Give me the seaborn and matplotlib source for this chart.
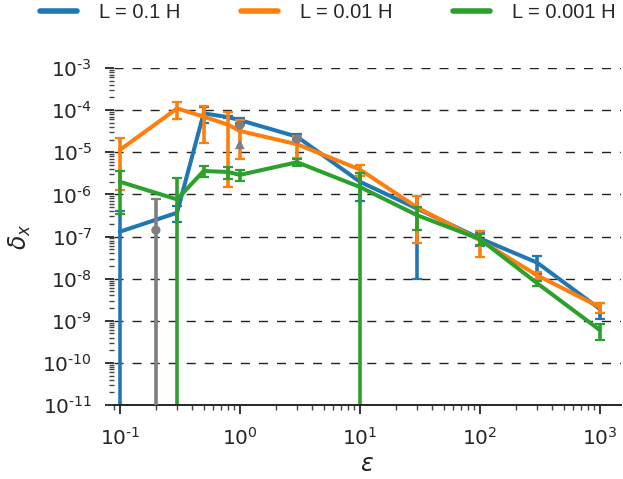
import numpy as np
import pandas as pd
import matplotlib
matplotlib.use("Agg")
import matplotlib.pyplot as plt
from matplotlib.ticker import LogLocator, FuncFormatter, NullFormatter
from matplotlib.lines import Line2D
import seaborn as sns

# ---- data -------------------------------------------------------------
eps = [0.1, 0.3, 0.5, 0.8, 1.0, 3.0, 10.0, 30.0, 100.0, 300.0, 1000.0]
series_labels = ["L = 0.1 H", "L = 0.01 H", "L = 0.001 H"]

delta_L1 = [1.3e-7, 3.66e-7, 8.4e-5, 6.8e-5, 5.8e-5, 2.34e-5, 2.0e-6, 4.6e-7, 9.0e-8, 2.4e-8, 1.9e-9]
err_L1 = [2.8e-7, 1.5e-7, 3.5e-5, 4.0e-6, 8.0e-6, 3.5e-6, 1.3e-6, 4.5e-7, 3.0e-8, 1.1e-8, 8.0e-10]

delta_L2 = [1.13e-5, 1.1e-4, 7.0e-5, 4.5e-5, 3.2e-5, 1.55e-5, 3.9e-6, 4.9e-7, 8.2e-8, 1.2e-8, 2.1e-9]
err_L2 = [1.0e-5, 5.0e-5, 5.3e-5, 4.35e-5, 2.5e-5, 8.3e-6, 1.1e-6, 4.2e-7, 5.0e-8, 2.0e-9, 6.0e-10]

delta_L3 = [2.0e-6, 7.6e-7, 3.6e-6, 3.4e-6, 2.9e-6, 5.8e-6, 1.5e-6, 3.2e-7, 8.7e-8, 7.8e-9, 6.0e-10]
err_L3 = [1.65e-6, 1.75e-6, 1.0e-6, 1.1e-6, 0.8e-6, 1.2e-6, 1.65e-6, 1.8e-7, 2.5e-8, 1.0e-9, 2.5e-10]

# reference points (grey)
ref_circle_eps = [0.2, 1.0, 3.0]
ref_circle_delta = [1.42e-7, 4.4e-5, 2.05e-5]
ref_circle_err = [6.2e-7, 0.0, 0.0]
ref_tri_eps = [1.0]
ref_tri_delta = [1.55e-5]

# ---- style ------------------------------------------------------------
sns.set_theme(style="ticks")
plt.rcParams["font.family"] = ["DejaVu Sans"]
plt.rcParams["mathtext.fontset"] = "dejavusans"

palette = sns.color_palette("tab10", 3)
grey = "#7f7f7f"

fig = plt.figure(figsize=(6.23, 4.79), dpi=100)
ax = fig.add_axes([0.1825, 0.1545, 0.8143, 0.7035])
ax.set_xscale("log")
ax.set_yscale("log")

all_vals = [delta_L1, delta_L2, delta_L3]
all_errs = [err_L1, err_L2, err_L3]

for label, color, vals, errs in zip(series_labels, palette, all_vals, all_errs):
    df = pd.DataFrame({"eps": eps, "delta": vals})
    sns.lineplot(data=df, x="eps", y="delta", color=color, linewidth=2.9,
                 errorbar=None, sort=False, ax=ax, legend=False)
    ax.errorbar(eps, vals, yerr=errs, fmt="none", ecolor=color,
                elinewidth=2.6, capsize=3.6, capthick=1.6)

# grey reference markers
ax.errorbar(ref_circle_eps, ref_circle_delta, yerr=ref_circle_err, fmt="none",
            ecolor=grey, elinewidth=2.6, capsize=3.6, capthick=1.6, zorder=4)
sns.scatterplot(x=ref_circle_eps, y=ref_circle_delta, color=grey, marker="o",
                s=44, edgecolor="none", ax=ax, zorder=5, legend=False)
sns.scatterplot(x=ref_tri_eps, y=ref_tri_delta, color=grey, marker="^",
                s=50, edgecolor="none", ax=ax, zorder=5, legend=False)

# ---- axes -------------------------------------------------------------
ax.set_xlim(0.089, 1500)
ax.set_ylim(1e-11, 1e-3)


def pow10_label(v, pos):
    k = int(round(np.log10(v)))
    return r"$\mathregular{10^{%s}}$" % str(k).replace("-", "\u2010")


for axis in (ax.xaxis, ax.yaxis):
    axis.set_major_locator(LogLocator(base=10, numticks=30))
    axis.set_minor_locator(LogLocator(base=10, subs=np.arange(2, 10), numticks=30))
    axis.set_major_formatter(FuncFormatter(pow10_label))
    axis.set_minor_formatter(NullFormatter())

ax.tick_params(axis="both", which="major", direction="out", length=6.5, width=1.4,
               color="#333333", labelsize=14.5, labelcolor="#262626", pad=9)
ax.tick_params(axis="both", which="minor", direction="out", length=3.3, width=1.0,
               color="#444444")

ax.yaxis.grid(True, which="major", color="#222222", linestyle=(0, (6.5, 6.5)),
              linewidth=1.0)
ax.xaxis.grid(False)

sns.despine(ax=ax, left=True)
ax.spines["bottom"].set_linewidth(1.4)
ax.spines["bottom"].set_color("#262626")

ax.set_xlabel(r"$\epsilon$", fontsize=17, color="#262626")
ax.set_ylabel(r"$\delta_x$", fontsize=17, color="#262626")
ax.xaxis.set_label_coords(0.5, -0.176)
ax.xaxis.label.set_va("center")
ax.yaxis.set_label_coords(-0.1847, 0.5)
ax.yaxis.label.set_va("center")

handles = [Line2D([], [], color=c, lw=4) for c in palette]
fig.legend(handles, series_labels, loc="center left",
           bbox_to_anchor=(40 / 623, 1 - 13 / 479), ncol=3, frameon=False,
           prop={"family": "Liberation Sans", "size": 14.5},
           handlelength=1.84, handletextpad=1.09, columnspacing=3.0,
           borderpad=0, borderaxespad=0)

fig.savefig("out.png", dpi=100)
